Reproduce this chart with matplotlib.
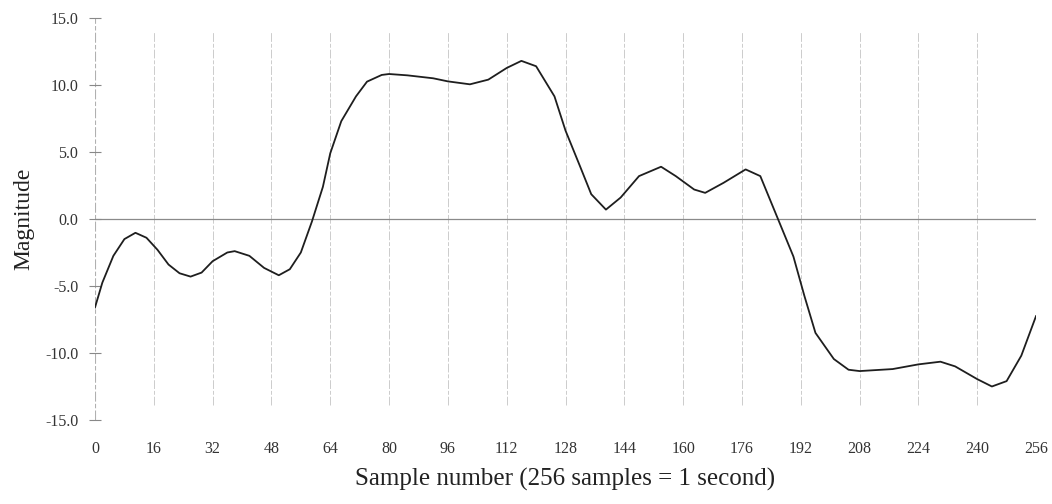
import matplotlib
matplotlib.use("Agg")
import matplotlib.pyplot as plt

# values
sample = [0, 2, 5, 8, 11, 14, 17, 20, 23, 26, 29, 32, 36, 38, 42, 46, 50,
          53, 56, 59, 62, 64, 67, 71, 74, 78, 80, 85, 92, 96, 102, 107, 112,
          116, 120, 125, 128, 132, 135, 139, 143, 148, 154, 158, 163, 166,
          171, 177, 181, 184, 187, 190, 193, 196, 201, 205, 208, 217, 224,
          230, 234, 240, 244, 248, 252, 256]
magnitude = [-6.6, -4.75, -2.75, -1.5, -1.03, -1.4, -2.3, -3.4, -4.05,
             -4.3, -4.0, -3.15, -2.5, -2.4, -2.75, -3.65, -4.2, -3.75, -2.5,
             -0.2, 2.4, 4.9, 7.3, 9.15, 10.25, 10.75, 10.82, 10.72, 10.5,
             10.27, 10.05, 10.4, 11.27, 11.8, 11.4, 9.15, 6.6, 3.9, 1.85, 0.7,
             1.6, 3.2, 3.9, 3.2, 2.2, 1.95, 2.7, 3.7, 3.2, 1.2, -0.8, -2.8,
             -5.75, -8.5, -10.45, -11.25, -11.35, -11.2, -10.85, -10.65,
             -11.0, -11.95, -12.5, -12.1, -10.2, -7.25]
x_ticks = list(range(0, 257, 16))
y_ticks = [-15, -10, -5, 0, 5, 10, 15]
y_labels = ["-15.0", "-10.0", "-5.0", "0.0", "5.0", "10.0", "15.0"]

plt.rcParams['font.family'] = ['Liberation Serif', 'DejaVu Serif']

fig = plt.figure(figsize=(10.52, 5.04), dpi=100)
ax = fig.add_axes([0.0903, 0.1667, 0.8945, 0.7976])

# vertical grid lines every 16 samples
for xv in x_ticks[1:]:
    ax.plot([xv, xv], [-13.9, 14.0], color='#cccccc', lw=0.7,
            linestyle=(0, (9, 2, 4, 2)), zorder=1)
# left axis line
ax.plot([0, 0], [-15, 15], color='#b0b0b0', lw=0.8,
        linestyle=(0, (9, 2, 4, 2)), zorder=1)
# zero line
ax.plot([0, 256], [0, 0], color='#8a8a8a', lw=0.9, zorder=1)

ax.plot(sample, magnitude, color='#1e1e1e', lw=1.3, zorder=3,
        solid_joinstyle='round')

ax.set_xlim(0, 256)
ax.set_ylim(-15, 15)
for s in ax.spines.values():
    s.set_visible(False)

ax.set_xticks(x_ticks)
ax.set_xticklabels([str(v) for v in x_ticks])
ax.tick_params(axis='x', length=0, pad=15, labelsize=11.5, labelcolor='#333333')
ax.set_yticks(y_ticks)
ax.set_yticklabels(y_labels)
ax.tick_params(axis='y', direction='inout', length=8, width=0.8,
               color='#888888', pad=8, labelsize=11.5, labelcolor='#333333')

ax.set_xlabel('Sample number (256 samples = 1 second)', fontsize=18,
              color='#222222', labelpad=8)
ax.set_ylabel('Magnitude', fontsize=17, color='#222222', labelpad=8)

fig.savefig('out.png', dpi=100)
